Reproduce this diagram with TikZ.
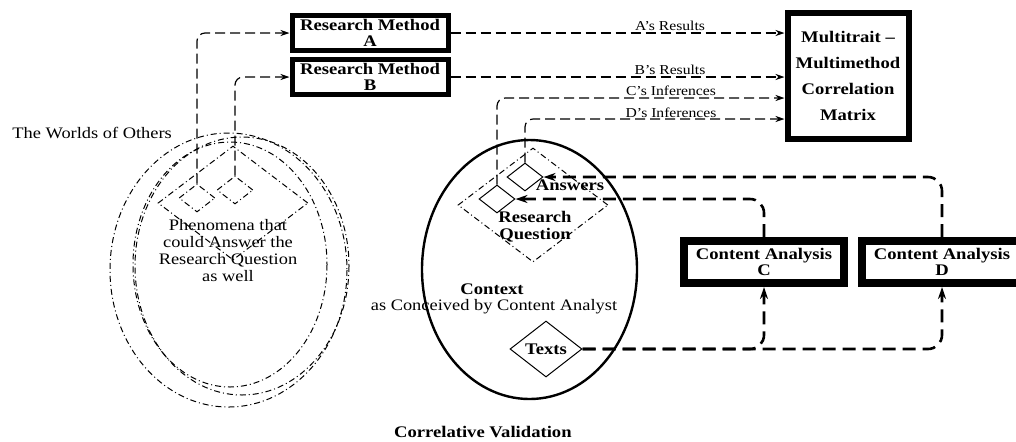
\documentclass[tikz,border=0pt]{standalone}
\usepackage{fontspec}
\setmainfont[FakeStretch=1.15]{Liberation Serif}
\usetikzlibrary{shapes.geometric,arrows.meta}

\begin{document}
\begin{tikzpicture}
[x=0.5pt,y=-0.5pt,>={Stealth[length=4.5pt,width=3pt]},
 box/.style={draw,line width=2.5pt,minimum width=78pt,minimum height=17.5pt,inner sep=0pt,align=center,font=\fontsize{8.1}{8}\selectfont\bfseries},
 cabox/.style={box,line width=4pt,minimum width=80pt,minimum height=21pt},
 mmbox/.style={box,line width=3pt,minimum width=60.5pt,minimum height=63pt,font=\fontsize{8.1}{13}\selectfont\bfseries},
 gem/.style={diamond,draw,line width=0.5pt,inner sep=0pt,minimum width=18pt,minimum height=14pt},
 dashdot/.style={dash pattern=on 3pt off 1.5pt on 0.5pt off 1.5pt,line width=0.5pt},
 biggem/.style={diamond,draw,dashdot,inner sep=0pt,minimum width=75pt,minimum height=57pt},
 thinarrow/.style={->,dash pattern=on 5pt off 2.5pt,line width=0.6pt},
 thickarrow/.style={-{Stealth[length=6pt,width=4pt]},dash pattern=on 6.5pt off 3.5pt,line width=1.3pt},
 lbl/.style={inner sep=0pt,font=\fontsize{6.8}{8}\selectfont},
 txt/.style={inner sep=0pt,align=center,font=\fontsize{8}{8.5}\selectfont},
 btxt/.style={txt,font=\fontsize{8.1}{8.5}\selectfont\bfseries},]

\useasboundingbox (0,0) rectangle (1016,441);
\clip (0,0) rectangle (1016,441);

%The worlds of others
\draw[dashdot] (228.5,270) ellipse [x radius=118.5,y radius=137];
\draw[dashdot] (230,264.5) ellipse [x radius=97,y radius=122.5];
\draw[dashdot] (242,266) ellipse [x radius=107,y radius=129];
\node (phbig) at (233,203)[biggem] {};
\node (ph1) at (197,198)[gem,dashdot] {};
\node (ph2) at (235,190)[gem,dashdot] {};

%Context of the content analyst
\node (ctx) at (529.5,269.5)[ellipse,draw,line width=1.2pt,minimum width=107.5pt,minimum height=129.5pt] {};
\node (rqbig) at (533,205)[biggem] {};
\node (ans) at (525,177)[gem] {};
\node (rq) at (497,199)[gem] {};
\node (tx) at (546,349)[gem,minimum width=36pt,minimum height=28pt,font=\fontsize{8.1}{8.5}\selectfont\bfseries] {Texts};

%Methods and analyses
\node (ra) at (370,33)[box] {Research Method\\A};
\node (rb) at (370,77)[box] {Research Method\\B};
\node (mm) at (848,76)[mmbox] {Multitrait --\\Multimethod\\Correlation\\Matrix};
\node (ca) at (764,262)[cabox] {Content Analysis\\C};
\node (cd) at (942,262)[cabox] {Content Analysis\\D};
\coordinate (mmC) at ([yshift=-11pt]mm.west);
\coordinate (mmD) at ([yshift=-21.5pt]mm.west);

%Texts
\node (worlds) at (12,133)[txt,anchor=west] {The Worlds of Others};
\node (phen) at (228,251)[txt] {Phenomena that\\could Answer the\\Research Question\\as well};
\node (anstxt) at (570,185)[btxt] {Answers};
\node (rqtxt) at (535,227)[btxt] {Research\\Question};
\node (ctxtxt) at (492,289)[btxt] {Context};
\node (concv) at (494,307)[txt] {as Conceived by Content Analyst};
\node (title) at (572,432)[btxt,anchor=east] {Correlative Validation};

%Connectors to the matrix
\draw[thinarrow,rounded corners=4pt] (ph1.north) |- (ra.west);
\draw[thinarrow,rounded corners=4pt] (ph2.north) |- (rb.west);
\draw[thinarrow] (ra.east) -- (ra.east -| mm.west);
\draw[thinarrow] (rb.east) -- (rb.east -| mm.west);
\draw[thinarrow,rounded corners=4pt] (rq.north) |- (mmC);
\draw[thinarrow,rounded corners=4pt] (ans.north) |- (mmD);
\node (la) at (670,26)[lbl] {A's Results};
\node (lb) at (670,70)[lbl] {B's Results};
\node (lc) at (671,91)[lbl] {C's Inferences};
\node (ld) at (671,113)[lbl] {D's Inferences};

%Connectors of the content analyses
\draw[thickarrow,rounded corners=7pt] (tx.east) -| (ca.south);
\draw[thickarrow,rounded corners=7pt] (tx.east) -| (cd.south);
\draw[thickarrow,rounded corners=7pt] (ca.north) |- (rq.east);
\draw[thickarrow,rounded corners=7pt] (cd.north) |- (ans.east);
\end{tikzpicture}
\end{document}
